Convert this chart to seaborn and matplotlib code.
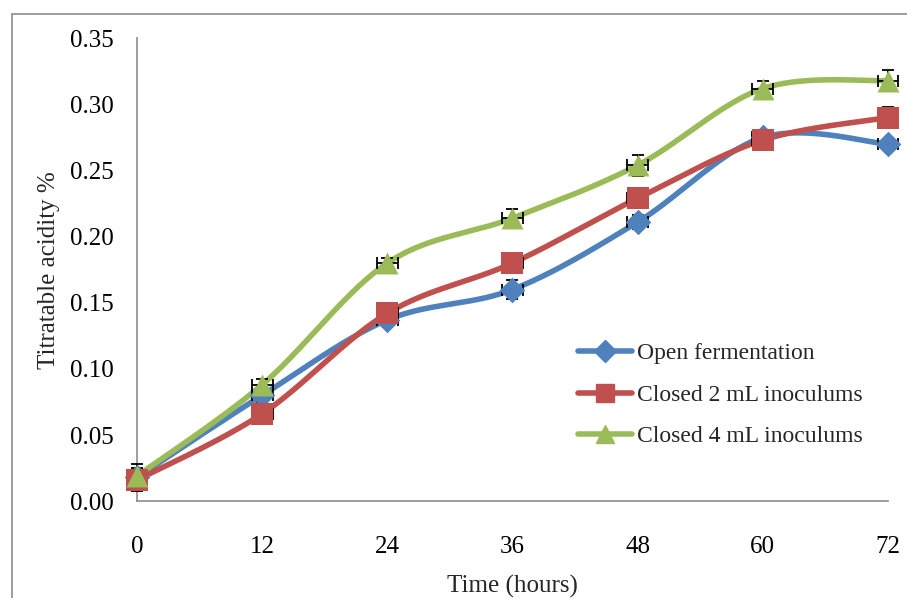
import numpy as np
import pandas as pd
import matplotlib
matplotlib.use("Agg")
import matplotlib.pyplot as plt
import seaborn as sns
from matplotlib.lines import Line2D
from matplotlib.patches import Rectangle

# data
hours = [0, 12, 24, 36, 48, 60, 72]
open_ferm = [0.018, 0.080, 0.137, 0.160, 0.211, 0.275, 0.270]
closed_2ml = [0.016, 0.066, 0.142, 0.180, 0.229, 0.273, 0.290]
closed_4ml = [0.019, 0.088, 0.180, 0.214, 0.254, 0.312, 0.318]
open_err = [0.010, 0.005, 0.004, 0.007, 0.005, 0.004, 0.004]
closed_2ml_err = [0.008, 0.004, 0.004, 0.005, 0.004, 0.004, 0.008]
closed_4ml_err = [0.006, 0.004, 0.004, 0.007, 0.008, 0.006, 0.008]
series_names = ["Open fermentation", "Closed 2 mL inoculums", "Closed 4 mL inoculums"]
x_err = 1.0


def smooth_curve(x, y, n=40):
    # Excel-like smoothed line (cardinal bezier through the points)
    x = np.asarray(x, float)
    y = np.asarray(y, float)
    px = np.concatenate([[x[0]], x, [x[-1]]])
    py = np.concatenate([[y[0]], y, [y[-1]]])
    xs, ys = [], []
    t = np.linspace(0, 1, n)
    for i in range(1, len(px) - 2):
        p0 = np.array([px[i], py[i]])
        p3 = np.array([px[i + 1], py[i + 1]])
        p1 = p0 + (np.array([px[i + 1], py[i + 1]]) - np.array([px[i - 1], py[i - 1]])) / 6
        p2 = p3 - (np.array([px[i + 2], py[i + 2]]) - np.array([px[i], py[i]])) / 6
        b = ((1 - t) ** 3)[:, None] * p0 + (3 * (1 - t) ** 2 * t)[:, None] * p1 \
            + (3 * (1 - t) * t ** 2)[:, None] * p2 + (t ** 3)[:, None] * p3
        xs.extend(b[:, 0])
        ys.extend(b[:, 1])
    return np.array(xs), np.array(ys)


df = pd.DataFrame({
    "hours": hours * 3,
    "acidity": open_ferm + closed_2ml + closed_4ml,
    "err": open_err + closed_2ml_err + closed_4ml_err,
    "series": [s for s in series_names for _ in hours],
})

sns.set_style("white")
plt.rcParams['font.family'] = ['Liberation Serif', 'DejaVu Serif']

colors = {"Open fermentation": "#4F81BD",
          "Closed 2 mL inoculums": "#C0504D",
          "Closed 4 mL inoculums": "#9BBB59"}
markers = {"Open fermentation": "D",
           "Closed 2 mL inoculums": "s",
           "Closed 4 mL inoculums": "^"}
msizes = {"Open fermentation": 170, "Closed 2 mL inoculums": 240, "Closed 4 mL inoculums": 250}

fig = plt.figure(figsize=(9.07, 5.98), dpi=100)
ax = fig.add_axes([0.151, 0.162, 0.828, 0.774])

fig.patches.append(Rectangle((0.013, -0.1), 1.2, 1.077, transform=fig.transFigure,
                             fill=False, edgecolor="#8c8c8c", linewidth=1.2))

for i, name in enumerate(series_names):
    sub = df[df["series"] == name]
    sx, sy = smooth_curve(sub["hours"], sub["acidity"])
    ax.plot(sx, sy, color=colors[name], linewidth=4.0, zorder=2 + i * 0.1,
            solid_capstyle="round", clip_on=False)
    ax.errorbar(sub["hours"], sub["acidity"], yerr=sub["err"], xerr=x_err,
                fmt="none", ecolor="black", elinewidth=1.3, capsize=4,
                capthick=1.3, zorder=3 + i * 0.1, clip_on=False)
    sns.scatterplot(x=sub["hours"], y=sub["acidity"], marker=markers[name],
                    s=msizes[name], color=colors[name], edgecolor=colors[name],
                    linewidth=0, zorder=4 + i * 0.1, ax=ax, clip_on=False, legend=False)

ax.set_xlim(0, 72)
ax.set_ylim(0, 0.35)
ax.set_xticks(hours)
ax.set_yticks(np.arange(0, 0.351, 0.05))
ax.set_yticklabels([f"{v:.2f}" for v in np.arange(0, 0.351, 0.05)])

for side in ["top", "right"]:
    ax.spines[side].set_visible(False)
for side in ["left", "bottom"]:
    ax.spines[side].set_color("#8c8c8c")
    ax.spines[side].set_linewidth(1.2)
ax.tick_params(axis="both", direction="out", length=6, width=1.2, color="#8c8c8c",
               labelsize=18, labelcolor="black")
ax.tick_params(axis="x", pad=19)
ax.tick_params(axis="y", pad=11)

ax.set_xlabel("Time (hours)", fontsize=18, labelpad=12)
ax.set_ylabel("Titratable acidity %", fontsize=18, labelpad=7)

handles = [Line2D([0], [0], color=colors[n], linewidth=4.0, marker=markers[n],
                  markersize=13 if n != "Open fermentation" else 11,
                  markerfacecolor=colors[n], markeredgecolor=colors[n]) for n in series_names]
ax.legend(handles, series_names, loc="lower right", bbox_to_anchor=(0.995, 0.07),
          frameon=False, fontsize=17, handlelength=2.3, handletextpad=0.2,
          labelspacing=0.85)

fig.savefig("out.png", dpi=100)
